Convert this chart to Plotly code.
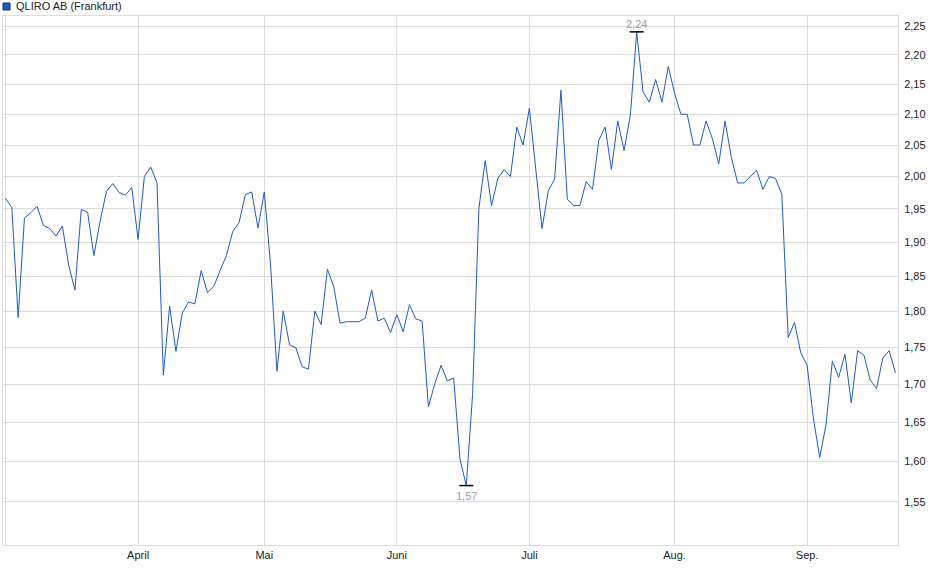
import numpy as np
import pandas as pd
import plotly.graph_objects as go

# Schlusskurse QLIRO AB (Frankfurt), März bis Sep. 2025, je Handelstag
mar = [1.966, 1.952, 1.791, 1.936, 1.944, 1.954, 1.925, 1.920, 1.909, 1.924, 1.866,
       1.830, 1.949, 1.945, 1.880, 1.932, 1.977, 1.989, 1.975, 1.971, 1.983]
apr = [1.904, 2.000, 2.015, 1.990, 1.712, 1.807, 1.744, 1.797, 1.813, 1.810,
       1.858, 1.826, 1.835, 1.858, 1.880, 1.916, 1.929, 1.972, 1.976, 1.921]
mai = [1.976, 1.865, 1.717, 1.800, 1.753, 1.749, 1.723, 1.720, 1.800, 1.781, 1.860,
       1.835, 1.783, 1.785, 1.785, 1.785, 1.790, 1.830, 1.786, 1.790, 1.770]
jun = [1.795, 1.771, 1.809, 1.789, 1.786, 1.670, 1.700, 1.725, 1.704, 1.708, 1.603,
       1.570, 1.686, 1.951, 2.025, 1.955, 1.997, 2.011, 2.000, 2.079, 2.050]
jul = [2.110, 2.015, 1.920, 1.978, 1.996, 2.140, 1.965, 1.955, 1.955, 1.992, 1.980, 2.058,
       2.079, 2.011, 2.089, 2.041, 2.099, 2.240, 2.137, 2.120, 2.158, 2.120, 2.180]
aug = [2.135, 2.100, 2.100, 2.050, 2.050, 2.089, 2.060, 2.020, 2.089, 2.030, 1.990,
       1.990, 2.000, 2.010, 1.980, 2.000, 1.997, 1.972, 1.763, 1.784, 1.742]
sep = [1.725, 1.655, 1.605, 1.647, 1.731, 1.709, 1.740, 1.675, 1.745, 1.739,
       1.705, 1.694, 1.735, 1.745, 1.715]

kurse = mar + apr + mai + jun + jul + aug + sep

# Handelstage Frankfurt (ohne Karfreitag, Ostermontag, 1. Mai)
feiertage = ["2025-04-18", "2025-04-21", "2025-05-01"]
tage = pd.bdate_range("2025-03-03", "2025-09-19")
tage = [d.strftime("%Y-%m-%d") for d in tage if d.strftime("%Y-%m-%d") not in feiertage]

monat_tage = ["2025-03-03", "2025-04-01", "2025-05-02", "2025-06-02",
              "2025-07-01", "2025-08-01", "2025-09-01"]
monat_text = ["", "April", "Mai", "Juni", "Juli", "Aug.", "Sep."]

y_ticks = [1.55, 1.60, 1.65, 1.70, 1.75, 1.80, 1.85, 1.90, 1.95, 2.00,
           2.05, 2.10, 2.15, 2.20, 2.25]

name = "QLIRO AB (Frankfurt)"
blau = "#1f5bc6"
grid = "#dcdcdc"

W, H = 940, 579
ML, MR, MT, MB = 3, 42, 16, 34
pw, ph = W - ML - MR, H - MT - MB


def px_x(p):
    return (p - ML) / pw


def px_y(p):
    return 1 - (p - MT) / ph


fig = go.Figure()

fig.add_trace(go.Scatter(
    x=tage, y=kurse, mode="lines", name=name,
    line=dict(color=blau, width=1), showlegend=False
))

# Hoch- und Tiefpunkt markieren
i_max = int(np.argmax(kurse))
i_min = int(np.argmin(kurse))
fig.add_trace(go.Scatter(
    x=[tage[i_max], tage[i_min]], y=[kurse[i_max], kurse[i_min]], mode="markers",
    marker=dict(symbol="line-ew", size=10, line=dict(color="black", width=1.5)),
    showlegend=False, hoverinfo="skip"
))
fig.add_annotation(x=tage[i_max], y=np.log10(kurse[i_max]),
                   text=f"{kurse[i_max]:.2f}".replace(".", ","),
                   showarrow=False, yanchor="bottom", yshift=0,
                   font=dict(color="#a0a0a0", size=11))
fig.add_annotation(x=tage[i_min], y=np.log10(kurse[i_min]),
                   text=f"{kurse[i_min]:.2f}".replace(".", ","),
                   showarrow=False, yanchor="top", yshift=-2,
                   font=dict(color="#a0a0a0", size=11))

# Legende oben links
fig.add_shape(type="rect", xref="paper", yref="paper",
              x0=px_x(3), x1=px_x(10), y0=px_y(10), y1=px_y(3),
              fillcolor=blau, line=dict(color="#1a2f66", width=1))
fig.add_annotation(text=name, xref="paper", yref="paper",
                   x=px_x(14), y=px_y(6.5), xanchor="left", yanchor="middle",
                   showarrow=False, font=dict(size=11, color="#222"))

fig.update_layout(
    width=W, height=H,
    margin=dict(l=ML, r=MR, t=MT, b=MB),
    paper_bgcolor="white", plot_bgcolor="white",
    font=dict(family="Liberation Sans, Arial, sans-serif", size=11, color="#222"),
    separators=",.",
    showlegend=False,
)

fig.update_xaxes(
    type="category", range=[-0.4, len(tage) - 0.6],
    tickmode="array", tickvals=monat_tage, ticktext=monat_text,
    showgrid=True, gridcolor=grid, gridwidth=1,
    showline=True, linecolor=grid, mirror=True,
    ticks="", tickfont=dict(size=11, color="#222"),
)
fig.update_yaxes(
    type="log", side="right",
    range=[np.log10(1.4986), np.log10(2.268)],
    tickmode="array", tickvals=y_ticks, tickformat=".2f",
    showgrid=True, gridcolor=grid, gridwidth=1,
    showline=True, linecolor=grid, mirror=True,
    ticks="outside", ticklen=3, tickcolor="rgba(0,0,0,0)",
    tickfont=dict(size=11, color="#222"),
)

# Seitenrand des HTML-Body entfernen, damit die Figur am Fensterrand beginnt
fig.write_html("out.html", config={"displayModeBar": False},
               post_script="document.body.style.margin='0';")
